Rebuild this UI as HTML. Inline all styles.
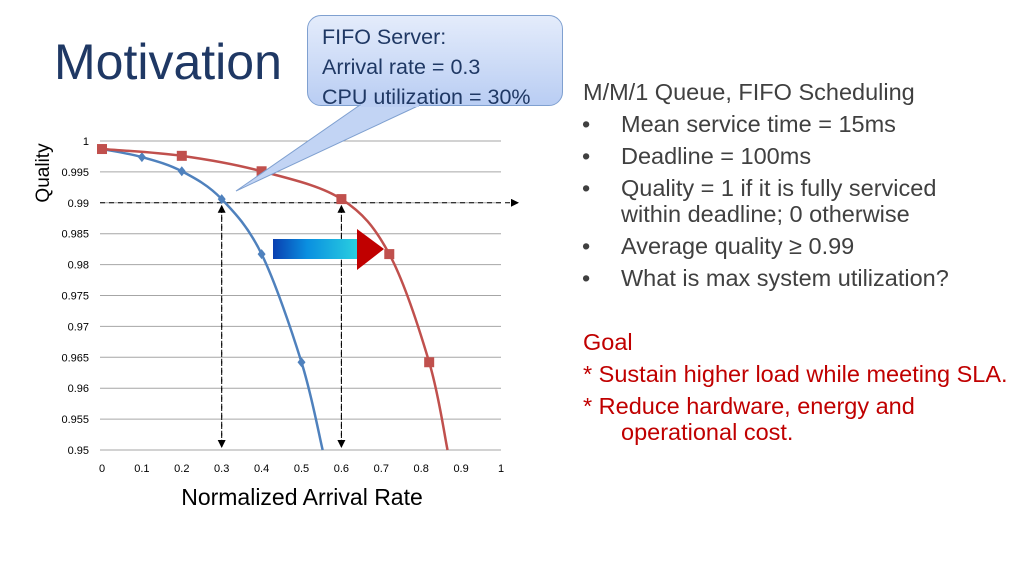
<!DOCTYPE html>
<html><head><meta charset="utf-8"><style>
body{margin:0;width:1024px;height:576px;background:#fff;overflow:hidden;font-family:"Liberation Sans",sans-serif;position:relative}
.t{position:absolute;color:#404040;font-size:23.5px;white-space:nowrap}
</style></head><body>
<div style="position:absolute;left:54px;top:33px;font-size:50px;color:#1f3864">Motivation</div>
<div>
<div class="t" style="left:583px;top:79px">M/M/1 Queue, FIFO Scheduling</div>
<div class="t" style="left:582px;top:111px">•</div><div class="t" style="left:621px;top:111px">Mean service time = 15ms</div>
<div class="t" style="left:582px;top:143px">•</div><div class="t" style="left:621px;top:143px">Deadline = 100ms</div>
<div class="t" style="left:582px;top:175px">•</div><div class="t" style="left:621px;top:175px">Quality = 1 if it is fully serviced</div>
<div class="t" style="left:621px;top:201px">within deadline; 0 otherwise</div>
<div class="t" style="left:582px;top:233px">•</div><div class="t" style="left:621px;top:233px">Average quality ≥ 0.99</div>
<div class="t" style="left:582px;top:265px">•</div><div class="t" style="left:621px;top:265px">What is max system utilization?</div>
</div>
<div>
<div class="t" style="left:583px;top:329px;color:#c00000">Goal</div>
<div class="t" style="left:583px;top:361px;color:#c00000">* Sustain higher load while meeting SLA.</div>
<div class="t" style="left:583px;top:393px;color:#c00000">* Reduce hardware, energy and</div>
<div class="t" style="left:621px;top:419px;color:#c00000">operational cost.</div>
</div>
<svg id="chart" width="1024" height="576" style="position:absolute;left:0;top:0">
<defs>
<linearGradient id="g" x1="0" x2="1"><stop offset="0" stop-color="#0a3fb0"/><stop offset="0.4" stop-color="#0a8fe0"/><stop offset="1" stop-color="#2ad0e0"/></linearGradient>
<marker id="ah" markerWidth="8" markerHeight="8" refX="7" refY="4" orient="auto"><path d="M0,0 L8,4 L0,8 z" fill="#000"/></marker>
</defs>
<g id="grid"></g><g id="ann"></g><g id="series"></g><g id="labels"></g>
</svg>
<div style="position:absolute;left:307px;top:15px;width:256px;height:91px;border:1px solid #7fa0d0;border-radius:14px;background:linear-gradient(#e4ecfb,#b9cdf3);box-sizing:border-box"></div>
<svg width="1024" height="576" style="position:absolute;left:0;top:0"><polygon points="360,105 420,105 236,191" fill="#c2d4f4" stroke="#7fa0d0"/><rect x="361" y="101" width="58" height="6" fill="#bccff3"/></svg>
<div style="position:absolute;left:322px;top:22px;font-size:21.5px;line-height:30px;color:#1f3864;white-space:nowrap">FIFO Server:<br>Arrival rate = 0.3<br>CPU utilization = 30%</div>
<script>
const xTicks=[0,0.1,0.2,0.3,0.4,0.5,0.6,0.7,0.8,0.9,1];
const yTicks=[0.95,0.955,0.96,0.965,0.97,0.975,0.98,0.985,0.99,0.995,1];
const blueX=[0,0.1,0.2,0.3,0.4,0.5];
const blueY=[0.9987,0.9974,0.9951,0.9906,0.9817,0.9642];
const blueEnd=[0.553,0.95];
const redX=[0,0.2,0.4,0.6,0.72,0.82];
const redY=[0.9987,0.9976,0.9951,0.9906,0.9817,0.9642];
const redEnd=[0.866,0.95];
const X=v=>102+v*399, Y=v=>141+(1-v)*6180;
const NS='http://www.w3.org/2000/svg';
function mk(p,t,a){const e=document.createElementNS(NS,t);for(const k in a)e.setAttribute(k,a[k]);p.appendChild(e);return e;}
const grid=document.getElementById('grid'),lab=document.getElementById('labels'),ser=document.getElementById('series'),ann=document.getElementById('ann');
yTicks.forEach(v=>{const l=mk(grid,'line',{x1:100,x2:501,y1:Y(v),y2:Y(v),stroke:'#a6a6a6','stroke-width':1});


const t=mk(lab,'text',{x:89,y:Y(v)+4,'text-anchor':'end','font-size':11,fill:'#000'});t.textContent=String(v);

});
xTicks.forEach(v=>{const t=mk(lab,'text',{x:X(v),y:472,'text-anchor':'middle','font-size':11,fill:'#000'});t.textContent=String(v);

});
const xt=mk(lab,'text',{x:302,y:505,'text-anchor':'middle','font-size':23,fill:'#000'});xt.textContent='Normalized Arrival Rate';


const yt=mk(lab,'text',{x:0,y:0,'text-anchor':'middle','font-size':19,fill:'#000',transform:'translate(49,173) rotate(-90)'});yt.textContent='Quality';


const hl=mk(ann,'line',{x1:100,x2:518,y1:Y(0.99),y2:Y(0.99),stroke:'#000','stroke-dasharray':'5,4','marker-end':'url(#ah)'});


[0.3,0.6].forEach(v=>{[[Y(0.99)+3,447],[447,Y(0.99)+3]].forEach(p=>{const l=mk(ann,'line',{x1:X(v),x2:X(v),y1:p[0],y2:p[1],stroke:'#000','stroke-dasharray':'5,4','marker-end':'url(#ah)'});

});});
const ar=mk(ann,'rect',{x:273,y:239,width:85,height:20,fill:'url(#g)'});


const ah=mk(ann,'polygon',{points:'357,229 384,249 357,270',fill:'#c00000'});


function curve(xs,ys,end,col,name,shape){
 const pts=xs.map((x,i)=>[X(x),Y(ys[i])]).concat([[X(end[0]),Y(end[1])]]);
 let d='M'+pts[0][0]+','+pts[0][1];
 for(let i=0;i<pts.length-1;i++){const p0=pts[Math.max(0,i-1)],p1=pts[i],p2=pts[i+1],p3=pts[Math.min(pts.length-1,i+2)];
  d+=` C${p1[0]+(p2[0]-p0[0])/6},${p1[1]+(p2[1]-p0[1])/6} ${p2[0]-(p3[0]-p1[0])/6},${p2[1]-(p3[1]-p1[1])/6} ${p2[0]},${p2[1]}`;}
 const p=mk(ser,'path',{d,fill:'none',stroke:col,'stroke-width':2.5});
 
 
 xs.forEach((x,i)=>{const cx=X(x),cy=Y(ys[i]);let m;
  if(shape==='d')m=mk(ser,'polygon',{points:`${cx},${cy-5} ${cx+4},${cy} ${cx},${cy+5} ${cx-4},${cy}`,fill:col});
  else m=mk(ser,'rect',{x:cx-5,y:cy-5,width:10,height:10,fill:col});
  
  });
}
curve(blueX,blueY,blueEnd,'#4f81bd','fifo-series','d');
curve(redX,redY,redEnd,'#c0504d','improved-series','s');
</script>
</body></html>
